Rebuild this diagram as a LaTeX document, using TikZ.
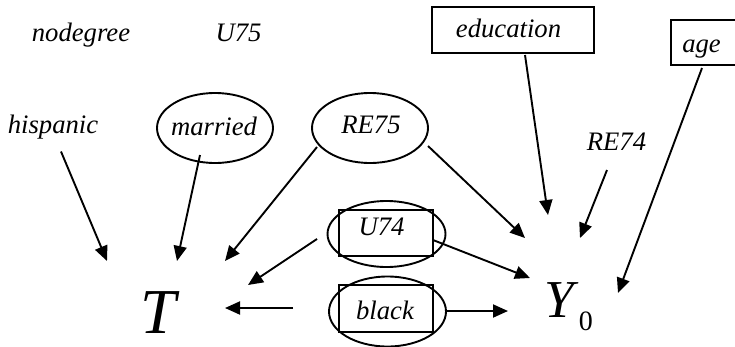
\documentclass[tikz,border=0pt]{standalone}
\usepackage{fontspec}
\setmainfont{Liberation Serif}
\usetikzlibrary{arrows.meta,calc,shapes.geometric}
\begin{document}
\begin{tikzpicture}[x=1pt,y=-1pt,
  txt/.style={font=\fontsize{26.67}{30}\selectfont\itshape, inner sep=0pt, anchor=base},
  oval/.style={draw, ellipse, line width=1.9pt, inner sep=0pt},
  boxnode/.style={draw, rectangle, line width=1.9pt, inner sep=0pt},
  arr/.style={line width=1.9pt, -{Triangle[length=15pt,width=13pt]}}]
\useasboundingbox (0,0) rectangle (735,346);
\clip (0,0) rectangle (735,346);
% text labels
\node[txt] (nodegree) at (81,41) {nodegree};
\node[txt] (U75) at (238.5,41) {U75};
\node[txt] (hisp) at (53,133) {hispanic};
\node[txt] (RE74) at (616.5,150) {RE74};
% ellipses
\node[oval, minimum width=116pt, minimum height=70pt] (marriedE) at (215,128) {};
\node[txt] (married) at (214,135) {married};
\node[oval, minimum width=116pt, minimum height=70pt] (RE75E) at (370,128) {};
\node[txt] (RE75) at (371,133) {RE75};
% boxes
\node[boxnode, minimum width=162pt, minimum height=46pt] (eduB) at (513,30) {};
\node[txt] (edu) at (508.5,37) {education};
\node[boxnode, minimum width=70pt, minimum height=45pt] (ageB) at (706,42.5) {};
\node[txt] (age) at (701.5,52) {age};
% U74 and black
\node[boxnode, minimum width=94pt, minimum height=46pt] (U74B) at (386,233) {};
\node[oval, minimum width=118pt, minimum height=66pt] (U74E) at (386.5,234) {};
\node[txt] (U74) at (381.5,235) {U74};
\node[boxnode, minimum width=94pt, minimum height=47pt] (blackB) at (386,308.5) {};
\node[oval, minimum width=117pt, minimum height=70pt] (blackE) at (387.5,311.5) {};
\node[txt] (black) at (385,319) {black};
% T and Y0
\node[inner sep=0pt, anchor=base, font=\fontsize{64}{70}\selectfont\itshape] (T) at (158.5,333) {T};
\node[inner sep=0pt, anchor=base west] (Y) at (544,317)
  {{\fontsize{53.3}{60}\selectfont\itshape Y}\kern5pt\raisebox{-13pt}{\fontsize{28}{30}\selectfont 0}};
% arrows into T
\draw[arr] ($(hisp.base)+(8,18.5)$) -- ($(T.base)+(-51.5,-72)$);
\draw[arr] ($(marriedE.center)+(-15,27)$) -- ($(T.base)+(18.5,-72)$);
\draw[arr] ($(RE75E.center)+(-53,19)$) -- ($(T.base)+(66.5,-72)$);
\draw[arr] ($(U74E.center)+(-69.5,5)$) -- ($(T.base)+(89.5,-48)$);
\draw[arr] ($(blackE.center)+(-94.5,-3.5)$) -- ($(T.base)+(66.5,-25)$);
% arrows into Y0
\draw[arr] ($(RE75E.center)+(58,18)$) -- ($(Y.base west)+(-19,-79)$);
\draw[arr] ($(eduB.center)+(12,25)$) -- ($(Y.base west)+(4,-102)$);
\draw[arr] ($(RE74.base)+(-9.5,20)$) -- ($(Y.base west)+(36,-79)$);
\draw[arr] ($(ageB.center)+(-4,25.5)$) -- ($(Y.base west)+(74,-24)$);
\draw[arr] ($(U74E.center)+(46.5,6)$) -- ($(Y.base west)+(-14,-39)$);
\draw[arr] ($(blackE.center)+(58.5,-0.5)$) -- ($(Y.base west)+(-36,-6)$);
\end{tikzpicture}
\end{document}
